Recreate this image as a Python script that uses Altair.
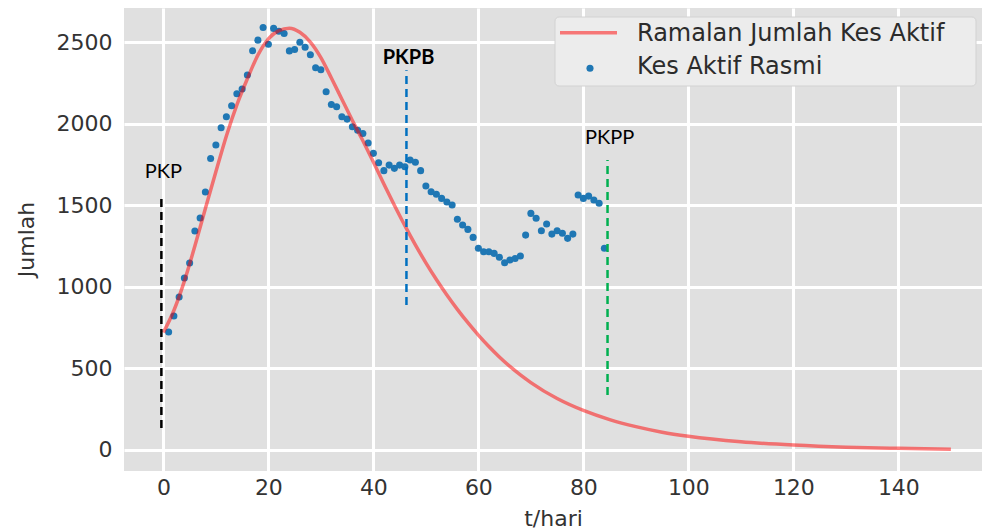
import altair as alt
import pandas as pd

# ---- data ----
days = list(range(1, 85))
active = [723, 821, 938, 1054, 1146, 1342, 1422, 1581, 1787, 1869,
          1975, 2042, 2110, 2183, 2212, 2298, 2447, 2512, 2590, 2487,
          2584, 2567, 2553, 2446, 2455, 2499, 2468, 2422, 2343, 2330,
          2196, 2118, 2104, 2042, 2028, 1981, 1960, 1940, 1881, 1818,
          1760, 1712, 1746, 1726, 1746, 1736, 1777, 1763, 1712, 1618,
          1583, 1567, 1542, 1520, 1501, 1414, 1379, 1352, 1303, 1236,
          1215, 1215, 1205, 1181, 1148, 1164, 1174, 1189, 1317, 1450,
          1420, 1344, 1385, 1323, 1344, 1328, 1297, 1323, 1563, 1542,
          1556, 1532, 1512, 1236]

fit_t = [0, 2, 4, 6, 8, 10, 12, 14, 16, 18, 20, 22, 24, 26, 28, 30, 32, 34,
         36, 38, 40, 42, 44, 46, 48, 50, 52, 54, 56, 58, 60, 62, 64, 66, 68,
         70, 75, 80, 85, 90, 95, 100, 110, 120, 130, 140, 150]
fit_v = [720, 855, 1035, 1250, 1480, 1705, 1925, 2115, 2275, 2420, 2520,
         2570, 2585, 2560, 2500, 2405, 2280, 2150, 2020, 1895, 1765, 1630,
         1500, 1375, 1257, 1147, 1045, 950, 862, 780, 704, 634, 570, 512,
         460, 413, 315, 242, 186, 143, 109, 84, 50, 30, 17, 10, 5]

x_ticks = [0, 20, 40, 60, 80, 100, 120, 140]
y_ticks = [0, 500, 1000, 1500, 2000, 2500]

# phase markers (day, lower, upper)
marker_names = ["PKP", "PKPB", "PKPP"]
marker_day = [-0.38, 46.3, 84.6]
marker_lo = [135, 888, 337]
marker_hi = [1563, 2328, 1777]
marker_colors = ["black", "#0070C0", "#00B050"]
label_day = [0, 46.7, 85]
label_val = [1703, 2402, 1912]

series_names = ["Ramalan Jumlah Kes Aktif", "Kes Aktif Rasmi"]

# ---- layout ----
W, H = 858, 463
bg = "#E0E0E0"
xs = alt.Scale(domain=[-7.5, -7.5 + W / 5.25], nice=False, zero=False)
ys = alt.Scale(domain=[-129, 2709], nice=False, zero=False)

obs_df = pd.DataFrame({"t": days, "v": active})
fit_df = pd.DataFrame({"t": fit_t, "v": fit_v})
mk_df = pd.DataFrame({"t": marker_day, "y0": marker_lo, "y1": marker_hi,
                      "c": marker_colors})
lab_df = pd.DataFrame({"t": label_day, "v": label_val, "txt": marker_names})

xaxis = alt.Axis(values=x_ticks, title="t/hari", labelPadding=6, format="d",
                 titleX=429, titleY=54, titleBaseline="alphabetic",
                 titleAlign="center")
yaxis = alt.Axis(values=y_ticks, title="Jumlah", labelPadding=12, format="d",
                 titleX=-91, titleY=231, titleAngle=-90,
                 titleBaseline="alphabetic", titleAlign="center")

X = lambda f: alt.X(f, scale=xs, axis=xaxis)
Y = lambda f: alt.Y(f, scale=ys, axis=yaxis)

points = alt.Chart(obs_df).mark_circle(size=50, color="#1f77b4", opacity=1).encode(
    x=X("t:Q"), y=Y("v:Q"),
)

line = alt.Chart(fit_df).mark_line(color="red", opacity=0.5, strokeWidth=3.5,
                                   interpolate="monotone").encode(
    x=X("t:Q"), y=Y("v:Q"),
)

rules = alt.Chart(mk_df).mark_rule(strokeWidth=2.5, strokeDash=[8, 5]).encode(
    x=X("t:Q"), y=Y("y0:Q"), y2="y1:Q",
    color=alt.Color("c:N", scale=None),
)

lab_norm = alt.Chart(lab_df).transform_filter(
    alt.datum.txt != "PKPB").mark_text(
    font="Lato", fontSize=20, color="black", baseline="middle", align="center"
).encode(x=X("t:Q"), y=Y("v:Q"), text="txt:N")
lab_bold = alt.Chart(lab_df).transform_filter(
    alt.datum.txt == "PKPB").mark_text(
    font="Lato", fontSize=20, fontWeight="bold", color="black",
    baseline="middle", align="center"
).encode(x=X("t:Q"), y=Y("v:Q"), text="txt:N")

# ---- legend (drawn as decoration) ----
one = alt.Data(values=[{"a": 1}])
leg_box = alt.Chart(one).mark_rect(fill="#ECECEC", stroke="#D2D2D2",
                                   strokeWidth=1, cornerRadius=4).encode(
    x=alt.value(431), x2=alt.value(852), y=alt.value(9), y2=alt.value(78))
leg_line = alt.Chart(one).mark_rule(color="red", opacity=0.5, strokeWidth=3.5).encode(
    x=alt.value(436), x2=alt.value(493), y=alt.value(24.7))
leg_dot = alt.Chart(one).mark_circle(size=50, color="#1f77b4", opacity=1).encode(
    x=alt.value(466), y=alt.value(60.3))
leg_t1 = alt.Chart(one).mark_text(font="DejaVu Sans", fontSize=24, color="#2b2b2b",
                                  align="left", baseline="alphabetic",
                                  text=series_names[0]).encode(
    x=alt.value(513), y=alt.value(33))
leg_t2 = alt.Chart(one).mark_text(font="DejaVu Sans", fontSize=24, color="#2b2b2b",
                                  align="left", baseline="alphabetic",
                                  text=series_names[1]).encode(
    x=alt.value(513), y=alt.value(65.5))

chart = alt.layer(
    points, line, rules, lab_norm, lab_bold,
    leg_box, leg_line, leg_dot, leg_t1, leg_t2
).properties(
    width=W, height=H,
    autosize=alt.AutoSizeParams(type="none"),
    padding={"left": 124, "top": 8, "right": 0, "bottom": 59},
).configure_view(
    fill=bg, stroke=None
).configure_axis(
    grid=True, gridColor="white", gridWidth=3, domain=False, ticks=False,
    labelFont="DejaVu Sans", labelFontSize=22, labelColor="#333333",
    titleFont="DejaVu Sans", titleFontSize=22, titleFontWeight="normal",
    titleColor="#333333",
)

chart.save("out.html", embed_options={"renderer": "svg", "actions": False})
